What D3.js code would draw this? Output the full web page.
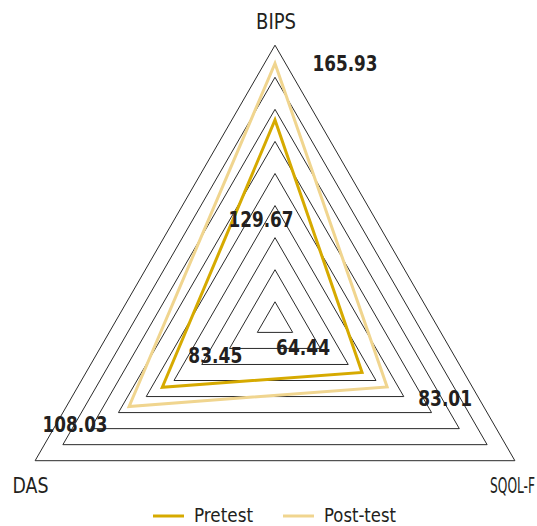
<!DOCTYPE html>
<html>
<head>
<meta charset="utf-8">
<script src="https://cdn.jsdelivr.net/npm/d3@7"></script>
<style>
  html, body { margin: 0; padding: 0; background: #fff; }
  svg { display: block; }
  text { font-family: "Liberation Sans Narrow", "DejaVu Sans Condensed", "Roboto", sans-serif; fill: #231f20; }
</style>
</head>
<body>
<script>
// ---- data ----
const axes = ["BIPS", "SQOL-F", "DAS"];
const seriesNames = ["Pretest", "Post-test"];
const pretest = [129.67, 64.44, 83.45];
const posttest = [165.93, 83.01, 108.03];
const gridLevels = [1, 2, 3, 4, 5, 6, 7, 8, 9];

// ---- layout ----
const W = 537, H = 526;
const cx = 275, cy = 322.2, R = 277;
const colors = { "Pretest": "#d6aa00", "Post-test": "#f0d58f" };

const svg = d3.select("body").append("svg").attr("width", W).attr("height", H);

const angle = d3.scalePoint().domain(axes).range([0, 2 * Math.PI * 2 / 3]);
const rScale = d3.scaleLinear().domain([0, 177.6]).range([0, R]);
const gridScale = d3.scaleLinear().domain([1, 9]).range([20.4, R]);

function pt(axis, r) {
  const a = angle(axis);
  return [cx + r * Math.sin(a), cy - r * Math.cos(a)];
}

const line = d3.line().curve(d3.curveLinearClosed);

// condensed text: centred at x, baseline y, squeezed horizontally to width w
function condText(parent, str, x, y, w, size, bold) {
  const t = parent.append("text")
    .attr("font-size", size)
    .attr("font-weight", bold ? "bold" : "normal")
    .attr("text-anchor", "middle")
    .text(str);
  const nat = t.node().getComputedTextLength();
  const sx = Math.min(1, w / nat);
  t.attr("transform", `translate(${x},${y}) scale(${sx},1)`);
  return t;
}

// grid
svg.append("g").selectAll("path").data(gridLevels).join("path")
  .attr("d", k => line(axes.map(ax => pt(ax, gridScale(k)))))
  .attr("fill", "none").attr("stroke", "#2a2a2a").attr("stroke-width", 1);

// series
const series = [
  { name: "Post-test", values: posttest },
  { name: "Pretest", values: pretest }
];
svg.append("g").selectAll("path").data(series).join("path")
  .attr("d", s => line(axes.map((ax, i) => pt(ax, rScale(s.values[i])))))
  .attr("fill", "none")
  .attr("stroke", s => colors[s.name])
  .attr("stroke-width", 3)
  .attr("stroke-linejoin", "miter");

// value labels (offsets from vertex)
const labelOffsets = {
  "Post-test": [[70, 8], [58, 19], [-54, 26]],
  "Pretest": [[-14, 107], [-59, -17], [53, -24]]
};
const valLayer = svg.append("g");
series.forEach(s => {
  axes.forEach((ax, i) => {
    const p = pt(ax, rScale(s.values[i]));
    const off = labelOffsets[s.name][i];
    const label = d3.format(".2f")(s.values[i]);
    condText(valLayer, label, p[0] + off[0], p[1] + off[1], label.length === 6 ? 65 : 54, 21.5, true);
  });
});

// axis labels
const axisLabelPos = { "BIPS": [276, 28.5, 40], "SQOL-F": [512.5, 493, 45], "DAS": [30.5, 493, 36] };
const axLayer = svg.append("g");
axes.forEach(ax => {
  const p = axisLabelPos[ax];
  condText(axLayer, ax, p[0], p[1], p[2], 21, false);
});

// legend
const legend = svg.append("g");
const legendX = [153, 283];
const legendW = [59, 72];
seriesNames.forEach((n, i) => {
  legend.append("line").attr("x1", legendX[i]).attr("x2", legendX[i] + 31)
    .attr("y1", 516).attr("y2", 516)
    .attr("stroke", colors[n]).attr("stroke-width", 3);
  condText(legend, n, legendX[i] + 41 + legendW[i] / 2, 522, legendW[i], 20, false);
});
</script>
</body>
</html>
